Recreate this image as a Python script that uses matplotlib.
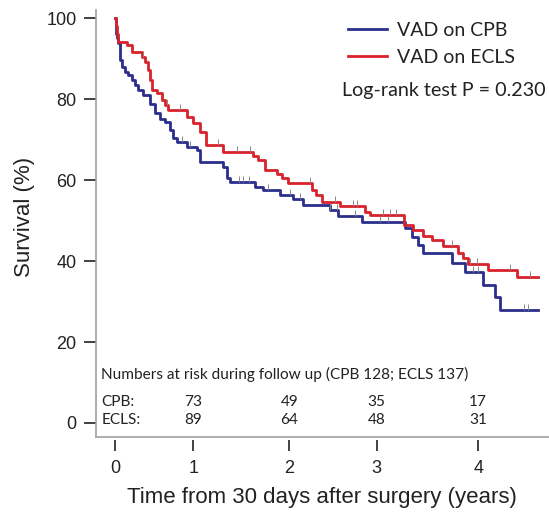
import numpy as np
import matplotlib
matplotlib.use('Agg')
import matplotlib.pyplot as plt
from matplotlib.path import Path

# Kaplan-Meier steps (years, survival %)
t_cpb = [0, 0.005, 0.015, 0.025, 0.036, 0.055, 0.074, 0.110, 0.147, 0.184, 0.220, 0.257,
         0.312, 0.386, 0.441, 0.496, 0.551, 0.606, 0.642, 0.680, 0.790, 0.900, 0.937,
         1.193, 1.231, 1.267, 1.543, 1.634, 1.818, 1.965, 2.075, 2.369, 2.461, 2.718,
         3.196, 3.269, 3.342, 3.397, 3.710, 3.857, 4.058, 4.187, 4.242, 4.664]
s_cpb = [100, 98, 96, 95, 93.8, 89.6, 88.0, 86.7, 85.9, 84.7, 83.5, 82.2,
         81.0, 78.9, 76.5, 75.2, 74.4, 72.3, 70.3, 69.5, 68.2, 67.4, 64.5,
         63.3, 60.4, 59.6, 58.3, 57.5, 56.3, 55.2, 53.8, 52.6, 51.1, 49.7,
         48.1, 46.0, 44.0, 41.9, 39.4, 37.4, 34.1, 31.2, 27.9, 27.9]

t_ecls = [0, 0.01, 0.02, 0.035, 0.129, 0.184, 0.294, 0.331, 0.364, 0.386, 0.408, 0.460,
          0.515, 0.551, 0.584, 0.793, 0.860, 0.937, 1.003, 1.190, 1.521, 1.576, 1.653,
          1.785, 1.840, 1.906, 2.171, 2.215, 2.281, 2.479, 2.755, 2.810, 3.185, 3.284,
          3.394, 3.490, 3.614, 3.783, 3.835, 3.893, 4.113, 4.426, 4.664]
s_ecls = [100, 98, 96, 94.1, 93.3, 91.7, 90.4, 89.2, 87.2, 84.7, 82.2, 81.5,
          79.8, 78.5, 77.3, 75.6, 74.1, 71.9, 68.6, 67.0, 65.9, 64.9, 62.5,
          61.5, 60.4, 59.2, 57.5, 56.3, 54.6, 53.6, 52.2, 51.4, 48.9, 47.7,
          46.2, 45.2, 43.7, 42.0, 40.7, 39.3, 37.8, 36.1, 36.1]

cens_cpb = [0.74, 0.83, 1.36, 1.41, 1.47, 1.69, 1.93, 2.04, 2.37, 2.45, 2.64, 2.92,
            3.01, 3.94, 4.00, 4.50, 4.55]
cens_ecls = [0.31, 0.57, 0.72, 1.13, 1.34, 1.49, 2.15, 2.42, 2.62, 2.67, 2.95, 3.03,
             3.09, 3.71, 3.91, 3.99, 4.35, 4.57]

# tick positions as drawn in the figure (not evenly spaced)
xtick_pos = [0, 0.86, 1.92, 2.88, 4.0]
xtick_lab = ['0', '1', '2', '3', '4']
risk_cpb = [73, 49, 35, 17]
risk_ecls = [89, 64, 48, 31]

blue = '#2a2e8c'
red = '#d8232d'
gray = '#a0a0a0'
txtc = '#222222'

fig = plt.figure(figsize=(5.49, 5.12), dpi=100)
ax = fig.add_axes([96/549, 1-437/512, 1-96/549, (437-10)/512])

ax.step(t_cpb, s_cpb, where='post', color=blue, lw=2.0, label='VAD on CPB')
ax.step(t_ecls, s_ecls, where='post', color=red, lw=2.0, label='VAD on ECLS')

# censor marks
tick_up = Path([(0, 0), (0, 1)], [Path.MOVETO, Path.LINETO])
for t, s, c in [(t_cpb, s_cpb, cens_cpb), (t_ecls, s_ecls, cens_ecls)]:
    idx = np.searchsorted(t, c, side='right') - 1
    ax.plot(c, np.array(s)[idx], ls='none', marker=tick_up, ms=8,
            mec='#8a8a8a', mew=0.7)

ax.set_xlim(-0.21, 4.78)
ax.set_ylim(-3.46, 102)
ax.set_yticks([0, 20, 40, 60, 80, 100])
ax.set_xticks(xtick_pos)
ax.set_xticklabels(xtick_lab)

for sp in ['top', 'right']:
    ax.spines[sp].set_visible(False)
ax.spines['left'].set_color(gray)
ax.spines['left'].set_linewidth(1.2)
ax.spines['bottom'].set_position(('outward', 2))
ax.spines['bottom'].set_visible(False)
ax.axhline(-3.46, color=gray, lw=1.2, clip_on=False)

ax.tick_params(axis='both', direction='out', width=1.3, color='#333333',
               labelsize=13, labelcolor=txtc)
ax.tick_params(axis='x', length=8, pad=6.5)
ax.tick_params(axis='y', length=8.6, pad=5.5)
for lab in ax.get_xticklabels() + ax.get_yticklabels():
    lab.set_family('Liberation Sans')

ax.set_ylabel('Survival (%)', fontsize=16, family='Liberation Sans', color=txtc)
ax.set_xlabel('Time from 30 days after surgery (years)', fontsize=16,
              family='Liberation Sans', color=txtc)
ax.yaxis.set_label_coords(-0.135, 0.515)
ax.xaxis.set_label_coords(0.499, -0.116)

leg = ax.legend(loc='upper left', bbox_to_anchor=(348/549, 1-22/512), bbox_transform=fig.transFigure,
                frameon=False, handlelength=2.0, handletextpad=0.5, labelspacing=0.5,
                prop={'family': 'Lato', 'size': 14}, borderpad=0, borderaxespad=0)
for txt in leg.get_texts():
    txt.set_color(txtc)

ax.text(4.738, 82.2, 'Log-rank test P = 0.230', ha='right', va='center',
        fontsize=14.2, family='Lato', color=txtc)

# numbers at risk
fs = 11.1
ax.text(-0.15, 11.9, 'Numbers at risk during follow up (CPB 128; ECLS 137)',
        ha='left', va='center', fontsize=fs, family='Lato', color=txtc)
ax.text(-0.15, 5.3, 'CPB:', ha='left', va='center', fontsize=fs, family='Lato', color=txtc)
ax.text(-0.15, 0.7, 'ECLS:', ha='left', va='center', fontsize=fs, family='Lato', color=txtc)
for x, a, b in zip(xtick_pos[1:], risk_cpb, risk_ecls):
    ax.text(x, 5.3, str(a), ha='center', va='center', fontsize=fs, family='Lato', color=txtc)
    ax.text(x, 0.7, str(b), ha='center', va='center', fontsize=fs, family='Lato', color=txtc)

fig.savefig('out.png', dpi=100)
